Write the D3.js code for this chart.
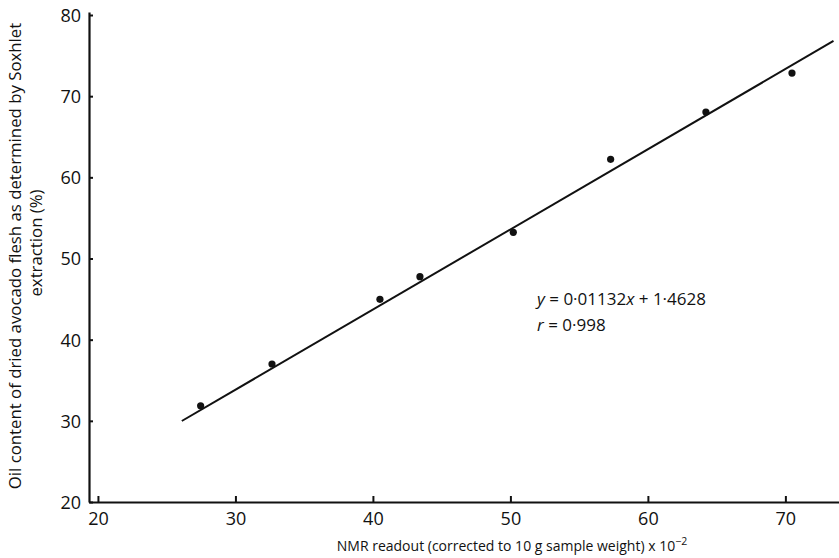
<!DOCTYPE html>
<html>
<head>
<meta charset="utf-8">
<script src="https://cdn.jsdelivr.net/npm/d3@7"></script>
<style>
  body { margin: 0; background: #fff; }
  svg text { font-family: "Open Sans", "DejaVu Sans", sans-serif; fill: #111; }
</style>
</head>
<body>
<div id="chart"></div>
<script>
// NMR readout (x 10^-2) vs oil content by Soxhlet (%)
const nmrReadout = [27.47, 32.66, 40.51, 43.42, 50.21, 57.29, 64.22, 70.48];
const oilContent = [31.86, 37.0, 44.97, 47.76, 53.23, 62.22, 68.05, 72.85];
const fitLineX = [26.1, 73.5];
const fitLineY = [29.98, 76.8];
const xTicks = [20, 30, 40, 50, 60, 70];
const yTicks = [20, 30, 40, 50, 60, 70, 80];

const width = 839, height = 558;

const x = d3.scaleLinear().domain([19.35, 73.9]).range([89, 839]);
const y = d3.scaleLinear().domain([20, 80.37]).range([502, 12]);

const svg = d3.select("#chart").append("svg")
    .attr("width", width)
    .attr("height", height);

// axes
const xAxis = svg.append("g")
    .attr("transform", `translate(0,${y(20)})`)
    .call(d3.axisBottom(x).tickValues(xTicks).tickSize(-6).tickSizeOuter(0).tickPadding(10));
const yAxis = svg.append("g")
    .attr("transform", `translate(${x(19.35)},0)`)
    .call(d3.axisLeft(y).tickValues(yTicks).tickSize(-4).tickSizeOuter(0).tickPadding(8));

[xAxis, yAxis].forEach(a => {
    a.select(".domain").attr("stroke", "#111").attr("stroke-width", 2.2);
    a.selectAll(".tick line").attr("stroke", "#111").attr("stroke-width", 2);
    a.selectAll(".tick text").attr("font-size", 18).attr("fill", "#222");
});
yAxis.selectAll(".tick text").attr("dy", "0.36em");

// regression line
svg.append("line")
    .attr("x1", x(fitLineX[0])).attr("y1", y(fitLineY[0]))
    .attr("x2", x(fitLineX[1])).attr("y2", y(fitLineY[1]))
    .attr("stroke", "#111")
    .attr("stroke-width", 2);

// points
svg.selectAll("circle.pt")
    .data(nmrReadout)
    .enter()
    .append("circle")
    .attr("class", "pt")
    .attr("cx", d => x(d))
    .attr("cy", (d, i) => y(oilContent[i]))
    .attr("r", 3.6)
    .attr("fill", "#111");

// equation
const eq = svg.append("text").attr("x", 537).attr("y", 305).attr("font-size", 17);
eq.append("tspan").attr("font-style", "italic").text("y");
eq.append("tspan").text(" = 0·01132");
eq.append("tspan").attr("font-style", "italic").text("x");
eq.append("tspan").text(" + 1·4628");

const rr = svg.append("text").attr("x", 537).attr("y", 331).attr("font-size", 17);
rr.append("tspan").attr("font-style", "italic").text("r");
rr.append("tspan").text(" = 0·998");

// x axis title
const xt = svg.append("text")
    .attr("x", 512).attr("y", 551)
    .attr("text-anchor", "middle")
    .attr("font-size", 14);
xt.append("tspan").text("NMR readout (corrected to 10 g sample weight) x 10");
xt.append("tspan").attr("dy", -6).attr("font-size", 10.5).text("−2");

// y axis title
svg.append("text")
    .attr("transform", "translate(21,256) rotate(-90)")
    .attr("text-anchor", "middle")
    .attr("font-size", 16.8)
    .text("Oil content of dried avocado flesh as determined by Soxhlet");
svg.append("text")
    .attr("transform", "translate(42,243) rotate(-90)")
    .attr("text-anchor", "middle")
    .attr("font-size", 16.8)
    .text("extraction (%)");
</script>
</body>
</html>
